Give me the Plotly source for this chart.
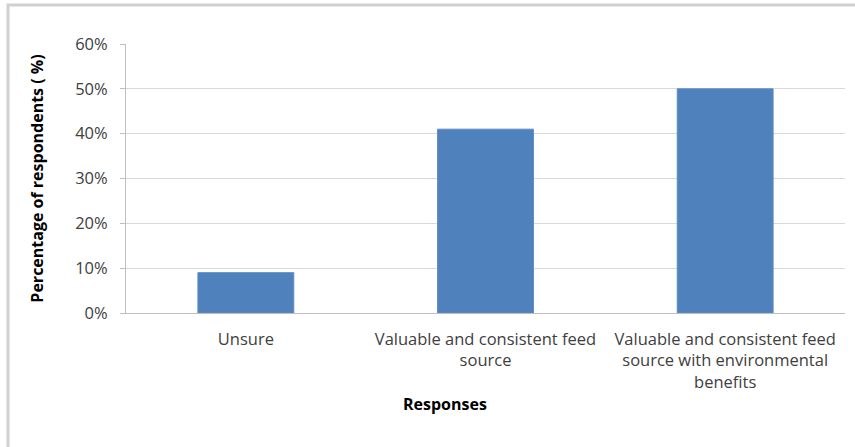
import plotly.graph_objects as go

# Survey responses and their share of respondents (%)
categories = [
    "Unsure",
    "Valuable and consistent feed<br>source",
    "Valuable and consistent feed<br>source with environmental<br>benefits",
]
percentages = [9, 41, 50]
y_ticks = [0, 10, 20, 30, 40, 50, 60]
y_tick_labels = [f"{v}%" for v in y_ticks]

W, H = 855, 447
L, R, T, B = 126, 10, 44, 134
pw, ph = W - L - R, H - T - B

font_family = "Open Sans, Liberation Sans, sans-serif"
text_color = "#404040"

fig = go.Figure(
    go.Bar(
        x=categories,
        y=percentages,
        marker=dict(color="#4F81BD", line=dict(color="#5B8CC6", width=1)),
        hoverinfo="x+y",
    )
)

fig.update_layout(
    width=W,
    height=H,
    margin=dict(l=L, r=R, t=T, b=B),
    paper_bgcolor="white",
    plot_bgcolor="white",
    bargap=0.6,
    showlegend=False,
    font=dict(family=font_family, size=16, color=text_color),
    xaxis=dict(
        showline=True,
        linecolor="#BFBFBF",
        linewidth=1,
        ticks="",
        ticklabelstandoff=11,
        tickfont=dict(size=16.5, color=text_color),
        showgrid=False,
    ),
    yaxis=dict(
        range=[0, 60],
        tickvals=y_ticks,
        ticktext=y_tick_labels,
        showline=True,
        linecolor="#BFBFBF",
        linewidth=1,
        ticks="outside",
        ticklen=5,
        tickcolor="#BFBFBF",
        ticklabelstandoff=9,
        showgrid=True,
        gridcolor="#D9D9D9",
        gridwidth=1,
        zeroline=False,
        tickfont=dict(size=16.5, color=text_color),
        title=dict(
            text="<b>Percentage of respondents ( %)</b>",
            font=dict(size=16, color="#000000"),
            standoff=27,
        ),
    ),
    annotations=[
        dict(
            text="<b>Responses</b>",
            x=(445 - L) / pw,
            y=(H - B - 404) / ph,
            xref="paper",
            yref="paper",
            xanchor="center",
            yanchor="middle",
            showarrow=False,
            font=dict(size=16, color="#000000"),
        )
    ],
    shapes=[
        # light frame around the chart area
        dict(
            type="rect",
            xref="paper",
            yref="paper",
            x0=(8 - L) / pw,
            x1=(W + 20 - L) / pw,
            y0=(H - B - (H + 20)) / ph,
            y1=(H - B - 5) / ph,
            line=dict(color="#D0D0D0", width=3),
            layer="below",
        )
    ],
)

fig.write_html("out.html")
